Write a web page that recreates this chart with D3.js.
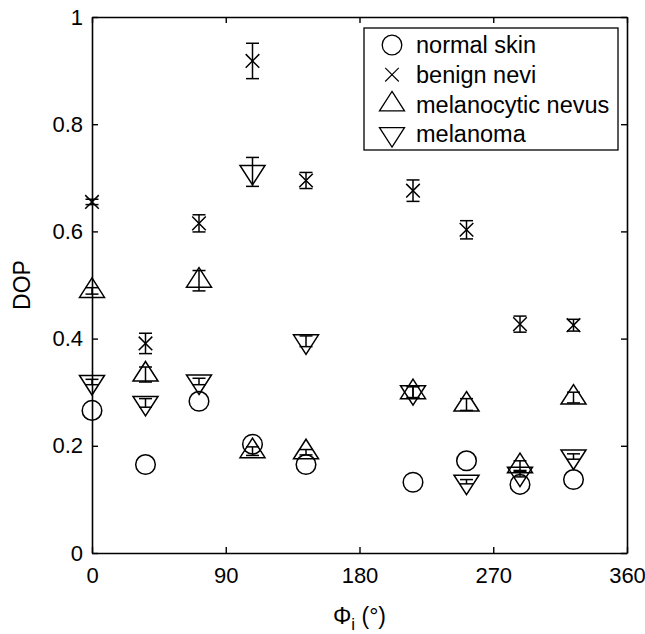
<!DOCTYPE html>
<html>
<head>
<meta charset="utf-8">
<script src="https://cdn.jsdelivr.net/npm/d3@7"></script>
<style>
  body { margin: 0; background: #fff; }
  svg { display: block; }
</style>
</head>
<body>
<div id="chart"></div>
<script>
// incidence azimuth (deg)
const angles = [0, 36, 72, 108, 144, 216, 252, 288, 324];

// DOP per tissue type, with +/- error where error bars are drawn
const normalSkin = [0.266, 0.165, 0.283, 0.203, 0.165, 0.132, 0.172, 0.128, 0.137];

const benignNevi = [0.655, 0.391, 0.615, 0.918, 0.695, 0.676, 0.603, 0.427, 0.425];
const benignErr = [0.005, 0.019, 0.016, 0.033, 0.015, 0.020, 0.017, 0.015, 0.011];

const melanocytic = [0.489, 0.333, 0.508, 0.190, 0.188, 0.300, 0.277, 0.162, 0.290];
const melanocyticErr = [0.006, 0.014, 0.019, 0.008, 0.005, 0.011, 0.011, 0.010, 0.010];

const melanoma = [0.319, 0.280, 0.320, 0.711, 0.395, 0.300, 0.133, 0.148, 0.180];
const melanomaErr = [0.005, 0.008, 0.006, 0.027, 0.010, 0.010, 0.004, 0.006, 0.005];

const xTicks = [0, 90, 180, 270, 360];
const yTicks = [0, 0.2, 0.4, 0.6, 0.8, 1];
const legendLabels = ["normal skin", "benign nevi", "melanocytic nevus", "melanoma"];

const W = 645, H = 634;
const margin = { top: 17, right: 18, bottom: 81, left: 92 };
const font = "'Liberation Sans', Arial, Helvetica, sans-serif";

const x = d3.scaleLinear().domain([0, 360]).range([margin.left, W - margin.right]);
const y = d3.scaleLinear().domain([0, 1]).range([H - margin.bottom, margin.top]);

const svg = d3.select("#chart").append("svg")
    .attr("width", W)
    .attr("height", H);

// marker shapes (centred on the data point)
function circlePath(r) {
    return `M${r},0A${r},${r} 0 1,1 ${-r},0A${r},${r} 0 1,1 ${r},0Z`;
}
function crossPath(s) {
    return `M${-s},${-s}L${s},${s}M${-s},${s}L${s},${-s}`;
}
function triUpPath(w, h) {
    return `M0,${-h * 2 / 3}L${w},${h / 3}L${-w},${h / 3}Z`;
}
function triDownPath(w, h) {
    return `M0,${h * 2 / 3}L${w},${-h / 3}L${-w},${-h / 3}Z`;
}

const series = [
    { name: legendLabels[0], values: normalSkin, err: null, path: circlePath(9.8) },
    { name: legendLabels[1], values: benignNevi, err: benignErr, path: crossPath(6.8) },
    { name: legendLabels[2], values: melanocytic, err: melanocyticErr, path: triUpPath(12.5, 19.5) },
    { name: legendLabels[3], values: melanoma, err: melanomaErr, path: triDownPath(12.5, 19.5) }
];

// axes: ticks point inward, on all four sides
svg.append("g")
    .attr("transform", `translate(0,${y(0)})`)
    .call(d3.axisBottom(x).tickValues(xTicks).tickFormat(d3.format("d"))
        .tickSizeInner(-6).tickSizeOuter(0).tickPadding(14));

svg.append("g")
    .attr("transform", `translate(${x(0)},0)`)
    .call(d3.axisLeft(y).tickValues(yTicks).tickFormat(d => d === 0 || d === 1 ? d : d3.format(".1f")(d))
        .tickSizeInner(-6).tickSizeOuter(0).tickPadding(9));

svg.append("g")
    .attr("transform", `translate(0,${y(1)})`)
    .call(d3.axisTop(x).tickValues(xTicks).tickFormat("").tickSizeInner(-6).tickSizeOuter(0));

svg.append("g")
    .attr("transform", `translate(${x(360)},0)`)
    .call(d3.axisRight(y).tickValues(yTicks).tickFormat("").tickSizeInner(-6).tickSizeOuter(0));

svg.selectAll(".tick line").attr("stroke", "#000").attr("stroke-width", 1.4);
svg.selectAll(".domain").attr("stroke", "#000").attr("stroke-width", 1.6);
svg.selectAll(".tick text")
    .attr("fill", "#000")
    .style("font-family", font)
    .style("font-size", "22px");

// data marks
series.forEach(s => {
    const g = svg.append("g")
        .attr("fill", "none")
        .attr("stroke", "#000")
        .attr("stroke-width", 1.5);

    g.selectAll("path.mark")
        .data(s.values)
        .enter()
        .append("path")
        .attr("class", "mark")
        .attr("transform", (d, i) => `translate(${x(angles[i])},${y(d)})`)
        .attr("d", s.path);

    if (s.err) {
        const cap = 6.5;
        const bars = g.selectAll("g.err")
            .data(s.values.map((v, i) => ({ a: angles[i], v, e: s.err[i] })))
            .enter()
            .append("g")
            .attr("class", "err");

        bars.append("line")
            .attr("x1", d => x(d.a)).attr("x2", d => x(d.a))
            .attr("y1", d => y(d.v + d.e)).attr("y2", d => y(d.v - d.e));
        bars.append("line")
            .attr("x1", d => x(d.a) - cap).attr("x2", d => x(d.a) + cap)
            .attr("y1", d => y(d.v + d.e)).attr("y2", d => y(d.v + d.e));
        bars.append("line")
            .attr("x1", d => x(d.a) - cap).attr("x2", d => x(d.a) + cap)
            .attr("y1", d => y(d.v - d.e)).attr("y2", d => y(d.v - d.e));
    }
});

// legend
const legend = svg.append("g");
legend.append("rect")
    .attr("x", 364)
    .attr("y", 28)
    .attr("width", 254)
    .attr("height", 122)
    .attr("fill", "#fff")
    .attr("stroke", "#000")
    .attr("stroke-width", 1.3);

series.forEach((s, i) => {
    const cy = 45 + i * 29.7;
    legend.append("path")
        .attr("transform", `translate(392,${cy})`)
        .attr("d", s.path)
        .attr("fill", "none")
        .attr("stroke", "#000")
        .attr("stroke-width", i === 1 ? 1.1 : 1.3);
    legend.append("text")
        .attr("x", 416)
        .attr("y", cy)
        .attr("dy", "0.35em")
        .style("font-family", font)
        .style("font-size", "23.5px")
        .attr("fill", "#000")
        .text(s.name);
});

// axis titles
const xLabel = svg.append("text")
    .attr("text-anchor", "middle")
    .attr("x", (x(0) + x(360)) / 2)
    .attr("y", 624)
    .style("font-family", font)
    .style("font-size", "23px")
    .attr("fill", "#000");
xLabel.append("tspan").text("Φ");
xLabel.append("tspan").attr("dy", 6).style("font-size", "17px").text("i");
xLabel.append("tspan").attr("dy", -6).text(" (°)");

svg.append("text")
    .attr("text-anchor", "middle")
    .attr("transform", "rotate(-90)")
    .attr("x", -(y(0) + y(1)) / 2)
    .attr("y", 30)
    .style("font-family", font)
    .style("font-size", "23px")
    .attr("fill", "#000")
    .text("DOP");
</script>
</body>
</html>
